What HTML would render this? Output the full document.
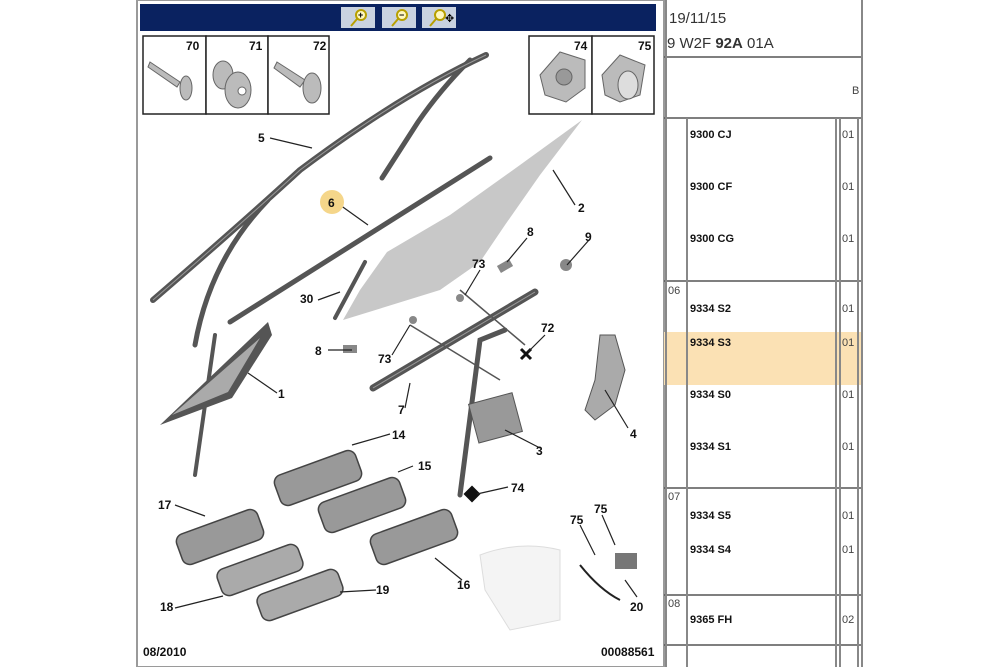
<!DOCTYPE html>
<html><head><meta charset="utf-8"><style>
html,body{margin:0;padding:0;background:#fff;}
body{width:1000px;height:667px;overflow:hidden;position:relative;font-family:"Liberation Sans",sans-serif;}
svg{position:absolute;left:0;top:0;}
.l{font-family:"Liberation Sans",sans-serif;font-weight:bold;font-size:12px;fill:#111;}
.t{font-family:"Liberation Sans",sans-serif;font-size:11px;fill:#111;font-weight:bold;}
.n{font-family:"Liberation Sans",sans-serif;font-size:11px;fill:#444;}
</style></head><body>
<svg width="1000" height="667" viewBox="0 0 1000 667">
<rect x="137" y="0" width="527" height="667" fill="#fff" stroke="#9a9a9a" stroke-width="2"/>
<rect x="140" y="4" width="516" height="27" fill="#0a2260"/>
<rect x="341" y="7" width="34" height="21" fill="#c9d2e0"/>
<rect x="382" y="7" width="34" height="21" fill="#c9d2e0"/>
<rect x="422" y="7" width="34" height="21" fill="#c9d2e0"/>
<g stroke="#b8a000" stroke-width="2" fill="#fff8c0">
<circle cx="361" cy="15" r="5"/><line x1="357" y1="19" x2="351" y2="26"/>
<circle cx="402" cy="15" r="5"/><line x1="398" y1="19" x2="392" y2="26"/>
<circle cx="440" cy="15" r="5"/><line x1="436" y1="19" x2="430" y2="26"/>
</g>
<text x="358" y="18" font-size="9" font-weight="bold">+</text>
<text x="399" y="18" font-size="9" font-weight="bold">−</text>
<text x="445" y="22" font-size="11">✥</text>
<g fill="#fff" stroke="#222" stroke-width="1.5">
<rect x="143" y="36" width="63" height="78"/><rect x="206" y="36" width="62" height="78"/><rect x="268" y="36" width="61" height="78"/>
<rect x="529" y="36" width="63" height="78"/><rect x="592" y="36" width="62" height="78"/>
</g>
<text class="l" x="186" y="50" font-size="13">70</text><text class="l" x="249" y="50" font-size="13">71</text><text class="l" x="313" y="50" font-size="13">72</text>
<text class="l" x="574" y="50" font-size="13">74</text><text class="l" x="638" y="50" font-size="13">75</text>
<g fill="#bbb" stroke="#666" stroke-width="1">
<path d="M150 62 L180 82 L177 87 L148 67 Z"/><ellipse cx="186" cy="88" rx="6" ry="12"/>
<ellipse cx="223" cy="75" rx="10" ry="14"/><ellipse cx="238" cy="90" rx="13" ry="18"/><circle cx="242" cy="91" r="4" fill="#fff"/>
<path d="M277 62 L305 80 L300 87 L274 68 Z"/><ellipse cx="312" cy="88" rx="9" ry="15"/>
<path d="M540 75 L560 52 L585 60 L585 88 L566 102 L545 95 Z"/><circle cx="564" cy="77" r="8" fill="#999"/>
<path d="M602 75 L620 55 L645 65 L640 95 L620 102 L605 95 Z"/><ellipse cx="628" cy="85" rx="10" ry="14" fill="#ddd"/>
</g>
<!-- glass 2 -->
<path d="M582 120 L540 175 L505 225 L480 262 L440 290 L343 320 L360 290 L387 252 L450 215 L520 165 Z" fill="#c8c8c8"/>
<g fill="none" stroke="#555" stroke-linecap="round">
<path d="M153 300 Q240 225 300 170 Q400 95 486 55" stroke-width="6"/>
<path d="M195 345 Q210 260 268 200" stroke-width="5"/>
<path d="M470 60 Q440 90 418 122 Q400 150 382 178" stroke-width="5"/>
<path d="M230 322 Q360 240 490 158" stroke-width="5"/>
<path d="M373 388 L535 292" stroke-width="7"/>
<path d="M335 318 L365 262" stroke-width="4"/>
<path d="M460 495 L480 340 L505 330" stroke-width="5"/>
<path d="M195 475 L215 335" stroke-width="4"/>
</g>
<g fill="none" stroke="#999" stroke-width="1">
<path d="M153 300 Q240 225 300 170 Q400 95 486 55"/>
<path d="M373 388 L535 292"/>
</g>
<path d="M160 425 L268 322 L272 335 L232 398 Z" fill="#555"/>
<path d="M172 415 L260 338 L228 392 Z" fill="#aaa"/>
<g fill="#999" stroke="#555">
<rect x="473" y="398" width="45" height="40" transform="rotate(-15 495 418)"/>
<path d="M410 325 L500 380" stroke-width="1.5" fill="none"/><path d="M460 290 L525 345" stroke-width="1.5" fill="none"/>
</g>
<path d="M600 335 L615 335 L625 370 L615 405 L595 420 L585 410 L595 380 Z" fill="#aaa" stroke="#555"/>
<g fill="#888"><rect x="498" y="262" width="14" height="8" transform="rotate(-30 505 266)"/><rect x="343" y="345" width="14" height="8"/><circle cx="566" cy="265" r="6"/><circle cx="460" cy="298" r="4"/><circle cx="413" cy="320" r="4"/></g>
<path d="M521 349 L531 359 M531 349 L521 359" stroke="#111" stroke-width="3"/>
<rect x="466" y="488" width="12" height="12" fill="#111" transform="rotate(45 472 494)"/>
<g fill="#999" stroke="#444" stroke-width="1.5">
<rect x="275" y="462" width="86" height="32" rx="8" transform="rotate(-20 318 478)"/>
<rect x="319" y="489" width="86" height="32" rx="8" transform="rotate(-20 362 505)"/>
<rect x="371" y="521" width="86" height="32" rx="8" transform="rotate(-20 414 537)"/>
<rect x="177" y="521" width="86" height="32" rx="8" transform="rotate(-20 220 537)"/>
<rect x="217" y="556" width="86" height="28" rx="8" transform="rotate(-20 260 570)" fill="#aaa"/>
<rect x="257" y="581" width="86" height="28" rx="8" transform="rotate(-20 300 595)" fill="#aaa"/>
</g>
<path d="M480 555 Q520 540 560 550 L560 620 L510 630 L485 590 Z" fill="#f4f4f4" stroke="#ddd"/>
<path d="M580 565 Q600 590 620 600" stroke="#222" stroke-width="2" fill="none"/>
<rect x="615" y="553" width="22" height="16" fill="#777"/>
<g stroke="#222" stroke-width="1.2">
<line x1="270" y1="138" x2="312" y2="148"/><line x1="553" y1="170" x2="575" y2="205"/>
<line x1="340" y1="205" x2="368" y2="225"/><line x1="527" y1="238" x2="507" y2="262"/>
<line x1="589" y1="240" x2="567" y2="265"/><line x1="480" y1="270" x2="465" y2="295"/>
<line x1="318" y1="300" x2="340" y2="292"/><line x1="328" y1="350" x2="352" y2="350"/>
<line x1="392" y1="355" x2="410" y2="325"/><line x1="545" y1="335" x2="528" y2="352"/>
<line x1="405" y1="408" x2="410" y2="383"/><line x1="277" y1="393" x2="248" y2="373"/>
<line x1="628" y1="428" x2="605" y2="390"/><line x1="540" y1="448" x2="505" y2="430"/>
<line x1="390" y1="434" x2="352" y2="445"/><line x1="413" y1="466" x2="398" y2="472"/>
<line x1="508" y1="487" x2="477" y2="494"/><line x1="175" y1="505" x2="205" y2="516"/>
<line x1="462" y1="580" x2="435" y2="558"/><line x1="376" y1="590" x2="340" y2="592"/>
<line x1="175" y1="608" x2="223" y2="596"/><line x1="580" y1="525" x2="595" y2="555"/>
<line x1="602" y1="515" x2="615" y2="545"/><line x1="637" y1="597" x2="625" y2="580"/>
</g>
<circle cx="332" cy="202" r="12" fill="#f5d68a"/>
<g class="l">
<text x="258" y="142">5</text><text x="328" y="207">6</text><text x="578" y="212">2</text>
<text x="527" y="236">8</text><text x="585" y="241">9</text><text x="472" y="268">73</text>
<text x="300" y="303">30</text><text x="315" y="355">8</text><text x="541" y="332">72</text>
<text x="378" y="363">73</text><text x="278" y="398">1</text><text x="398" y="414">7</text>
<text x="630" y="438">4</text><text x="536" y="455">3</text><text x="392" y="439">14</text>
<text x="418" y="470">15</text><text x="511" y="492">74</text><text x="158" y="509">17</text>
<text x="594" y="513">75</text><text x="570" y="524">75</text><text x="457" y="589">16</text>
<text x="376" y="594">19</text><text x="160" y="611">18</text><text x="630" y="611">20</text>
</g>
<text class="l" x="143" y="656" font-size="10">08/2010</text>
<text class="l" x="601" y="656" font-size="10">00088561</text>
<rect x="664" y="332" width="198" height="53" fill="#fbe1b4"/>
<g stroke="#555" stroke-width="1.5">
<line x1="664" y1="57" x2="862" y2="57"/><line x1="664" y1="118" x2="862" y2="118"/>
<line x1="664" y1="281" x2="862" y2="281"/><line x1="664" y1="488" x2="862" y2="488"/>
<line x1="664" y1="595" x2="862" y2="595"/><line x1="664" y1="645" x2="862" y2="645"/>
</g>
<g stroke="#888" stroke-width="2">
<line x1="687" y1="118" x2="687" y2="667"/><line x1="836" y1="118" x2="836" y2="667"/><line x1="840" y1="118" x2="840" y2="667"/>
<line x1="858" y1="118" x2="858" y2="667"/>
<line x1="862" y1="0" x2="862" y2="667"/><line x1="666" y1="0" x2="666" y2="667"/>
</g>
<text x="669" y="23" font-size="15" fill="#333">19/11/15</text>
<text x="667" y="48" font-size="15" fill="#333">9 W2F <tspan font-weight="bold">92A</tspan> 01A</text>
<text class="n" x="852" y="94">B</text>
<g class="t">
<text x="690" y="138">9300 CJ</text><text x="690" y="190">9300 CF</text><text x="690" y="242">9300 CG</text>
<text x="690" y="312">9334 S2</text><text x="690" y="346">9334 S3</text><text x="690" y="398">9334 S0</text>
<text x="690" y="450">9334 S1</text><text x="690" y="519">9334 S5</text><text x="690" y="553">9334 S4</text>
<text x="690" y="623">9365 FH</text>
</g>
<g class="n">
<text x="842" y="138">01</text><text x="842" y="190">01</text><text x="842" y="242">01</text>
<text x="842" y="312">01</text><text x="842" y="346">01</text><text x="842" y="398">01</text>
<text x="842" y="450">01</text><text x="842" y="519">01</text><text x="842" y="553">01</text>
<text x="842" y="623">02</text>
<text x="668" y="294">06</text><text x="668" y="500">07</text><text x="668" y="607">08</text>
</g>
</svg>
</body></html>
